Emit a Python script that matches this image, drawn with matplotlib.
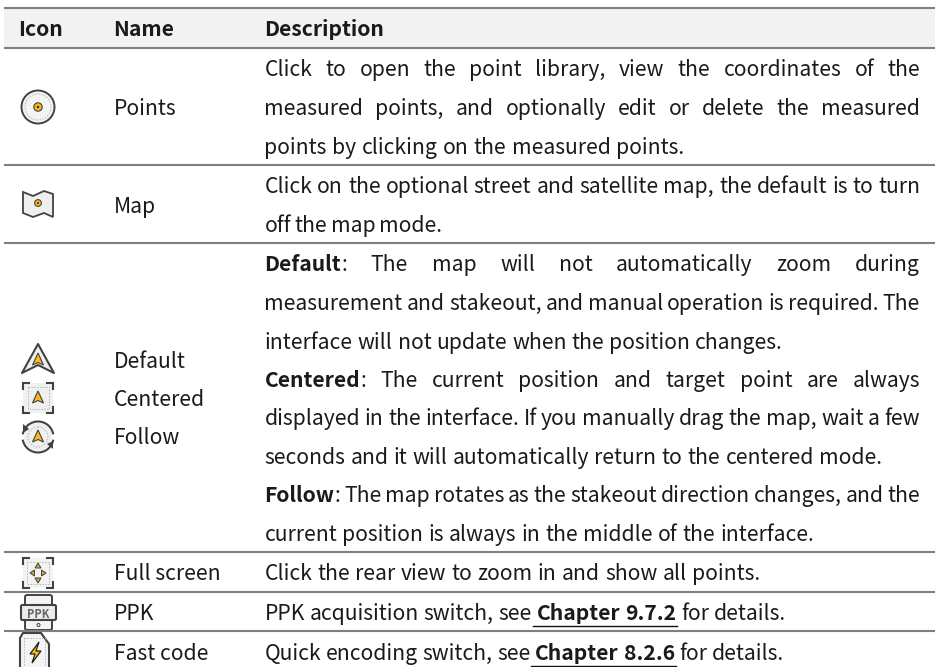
import matplotlib
matplotlib.use("Agg")
import matplotlib.pyplot as plt
from matplotlib.patches import Polygon, Circle, Rectangle, Arc, FancyBboxPatch

# ------------------------------------------------------------
# Table content
# ------------------------------------------------------------

headers = ["Icon", "Name", "Description"]
rule_rows = [8, 48, 165, 243, 552, 592, 631]

names = ["Points", "Map", "Default", "Centered", "Follow", "Full screen", "PPK", "Fast code"]
name_rows = [107, 205, 360, 398, 436, 572, 612, 652]

# each line: (row y, right edge, [(text, bold?, underlined?), ...])
desc_lines = [
    (68, 920, [("Click to open the point library, view the coordinates of the", 0, 0)]),
    (107, 920, [("measured points, and optionally edit or delete the measured", 0, 0)]),
    (146, 684, [("points by clicking on the measured points.", 0, 0)]),
    (185, 920, [("Click on the optional street and satellite map, the default is to turn", 0, 0)]),
    (224, 442, [("off the map mode.", 0, 0)]),
    (263, 920, [("Default", 1, 0), (": The map will not automatically zoom during", 0, 0)]),
    (302, 920, [("measurement and stakeout, and manual operation is required. The", 0, 0)]),
    (341, 783, [("interface will not update when the position changes.", 0, 0)]),
    (379, 920, [("Centered", 1, 0), (": The current position and target point are always", 0, 0)]),
    (417, 920, [("displayed in the interface. If you manually drag the map, wait a few", 0, 0)]),
    (456, 882, [("seconds and it will automatically return to the centered mode.", 0, 0)]),
    (494, 920, [("Follow", 1, 0), (": The map rotates as the stakeout direction changes, and the", 0, 0)]),
    (533, 814, [("current position is always in the middle of the interface.", 0, 0)]),
    (572, 760, [("Click the rear view to zoom in and show all points.", 0, 0)]),
    (612, 786, [("PPK acquisition switch, see", 0, 0), (" Chapter 9.7.2", 1, 1), (" for details.", 0, 0)]),
    (652, 784, [("Quick encoding switch, see", 0, 0), (" Chapter 8.2.6", 1, 1), (" for details.", 0, 0)]),
]

# ------------------------------------------------------------
# Style
# ------------------------------------------------------------

FONT = ["Noto Sans CJK SC", "DejaVu Sans"]
SIZE = 15.2
TEXT = "#1a1a1a"
DARK = "#3f4246"
YELLOW = "#fdb813"
X_DESC = 264.5
BASELINE = 7.6

fig = plt.figure(figsize=(9.35, 6.67), dpi=100)
ax = fig.add_axes([0, 0, 1, 1])
ax.set_xlim(0, 935)
ax.set_ylim(667, 0)
ax.axis("off")


def put(x, y, s, bold=False):
    return ax.text(x, y + BASELINE, s, family=FONT, fontsize=SIZE, color=TEXT, va="baseline",
                   fontweight="bold" if bold else "normal")


# ------------------------------------------------------------
# Rules and header
# ------------------------------------------------------------

ax.add_patch(Rectangle((4, rule_rows[0]), 931, rule_rows[1] - rule_rows[0], fc="#f2f2f2", ec="none"))
for y in rule_rows:
    ax.plot([4, 935], [y, y], color="#7f7f7f", lw=1.5, solid_capstyle="butt")

for x, h in zip([18.5, 113.5, X_DESC], headers):
    put(x, 28.5, h, bold=True)
for n, y in zip(names, name_rows):
    put(113.5, y, n)

# ------------------------------------------------------------
# Description lines, spread word by word to their right edge
# ------------------------------------------------------------

fig.canvas.draw()
renderer = fig.canvas.get_renderer()


def width(s, bold):
    t = put(0, 0, s, bold)
    w = t.get_window_extent(renderer).width
    t.remove()
    return w


def split_words(segments):
    # split into words, remembering whether a space comes before each one
    words = []
    for seg, bold, under in segments:
        for i, p in enumerate(seg.split(" ")):
            if p:
                words.append([p, bold, under, i > 0])
    return words


for y, right, segments in desc_lines:
    words = split_words(segments)
    widths = [width(w[0], w[1]) for w in words]
    gaps = sum(1 for w in words[1:] if w[3])
    gap = (right - X_DESC - sum(widths)) / gaps
    x = X_DESC
    under_x = []
    for w, wd in zip(words, widths):
        if w[3] and x > X_DESC:
            x += gap
        put(x, y, w[0], w[1])
        if w[2]:
            under_x += [x, x + wd]
        x += wd
    if under_x:
        ax.plot([min(under_x) - 4, max(under_x) + 1], [y + 13.7, y + 13.7], color="#111111", lw=1.0)

# ------------------------------------------------------------
# Icons
# ------------------------------------------------------------


def pin(cx, cy, s=1.0):
    ax.add_patch(Circle((cx, cy), 4.2 * s, fc=YELLOW, ec=DARK, lw=0.8))
    ax.add_patch(Circle((cx, cy), 1.3 * s, fc="#333333", ec="none"))


def arrow(cx, cy, s=1.0, c=YELLOW):
    pts = [(cx, cy - 7 * s), (cx + 5.5 * s, cy + 5 * s), (cx, cy + 2.5 * s), (cx - 5.5 * s, cy + 5 * s)]
    ax.add_patch(Polygon(pts, fc=c, ec=DARK, lw=0.8))


def corners(cx, cy, h, arm=6):
    for sx in (-1, 1):
        for sy in (-1, 1):
            ax.plot([cx + sx * (h - arm), cx + sx * h, cx + sx * h],
                    [cy + sy * h, cy + sy * h, cy + sy * (h - arm)],
                    color=DARK, lw=1.5, solid_joinstyle="miter")


def dashed_box(x0, y0, w, h):
    ax.add_patch(Rectangle((x0, y0), w, h, fc="none", ec="#b5b5b5", lw=0.7, ls=(0, (1.5, 1.5))))


# points
ax.add_patch(Circle((38, 107), 16.5, fc="#f4f4f4", ec=DARK, lw=1.4))
ax.add_patch(Circle((38, 107), 13, fc="none", ec="#b5b5b5", lw=0.7, ls=(0, (1.5, 1.5))))
pin(38, 107)

# map
ax.add_patch(Polygon([(23, 192), (33, 196), (44, 191), (53, 194), (53, 217), (44, 213), (33, 217), (23, 213)],
                     fc="#efefef", ec=DARK, lw=1.3))
pin(38, 203, 0.8)

# default
ax.add_patch(Polygon([(38, 344), (54, 373), (38, 365), (22, 373)], fc="#efefef", ec=DARK, lw=1.5, joinstyle="round"))
arrow(38, 360)

# centered
ax.add_patch(Rectangle((23, 383), 30, 30, fc="#f0f0f0", ec="none"))
dashed_box(28, 387, 21, 22)
corners(38, 398, 15)
arrow(38, 398)

# follow
ax.add_patch(Circle((38, 437), 14, fc="#efefef", ec="none"))
ax.add_patch(Circle((38, 437), 10, fc="none", ec="#b5b5b5", lw=0.7, ls=(0, (1.5, 1.5))))
ax.add_patch(Arc((38, 437), 31, 31, theta1=190, theta2=350, color=DARK, lw=1.5))
ax.add_patch(Arc((38, 437), 31, 31, theta1=10, theta2=170, color=DARK, lw=1.5))
ax.add_patch(Polygon([(23, 424), (29, 429), (23, 433)], fc=DARK, ec="none"))
ax.add_patch(Polygon([(53, 449), (47, 444), (53, 441)], fc=DARK, ec="none"))
arrow(38, 437)

# full screen
ax.add_patch(Rectangle((23, 558), 30, 30, fc="#f3f3f3", ec="none"))
dashed_box(27, 562, 22, 22)
corners(38, 573, 15)
for tri in ([(38, 563), (35, 568), (41, 568)], [(38, 583), (35, 578), (41, 578)],
            [(30, 573), (34.5, 570), (34.5, 576)], [(46, 573), (41.5, 570), (41.5, 576)]):
    ax.add_patch(Polygon(tri, fc="#d9a520", ec=DARK, lw=0.7))

# ppk
ax.add_patch(FancyBboxPatch((25, 595), 27, 35, boxstyle="round,pad=0,rounding_size=2", fc="#f4f4f4", ec=DARK, lw=1.4))
ax.add_patch(FancyBboxPatch((21, 605), 35, 15, boxstyle="round,pad=0,rounding_size=1.5", fc="#ececec", ec=DARK, lw=1.5))
ax.text(38.5, 612.5, "PPK", family=FONT, fontsize=8, fontstyle="italic", fontweight="bold",
        color="#666666", ha="center", va="center_baseline")
ax.add_patch(Circle((38.5, 625), 1.5, fc="none", ec=DARK, lw=0.7))

# fast code
ax.add_patch(Polygon([(20, 672), (20, 638), (23, 633), (41, 633), (49, 644), (49, 672)], fc="#f4f4f4", ec=DARK, lw=1.5))
dashed_box(24, 638, 21, 32)
ax.add_patch(Polygon([(39, 642), (30, 654), (35, 654), (32, 663), (41, 651), (36, 651)], fc=YELLOW, ec="#222222", lw=0.9))

fig.savefig("out.png", dpi=100)
